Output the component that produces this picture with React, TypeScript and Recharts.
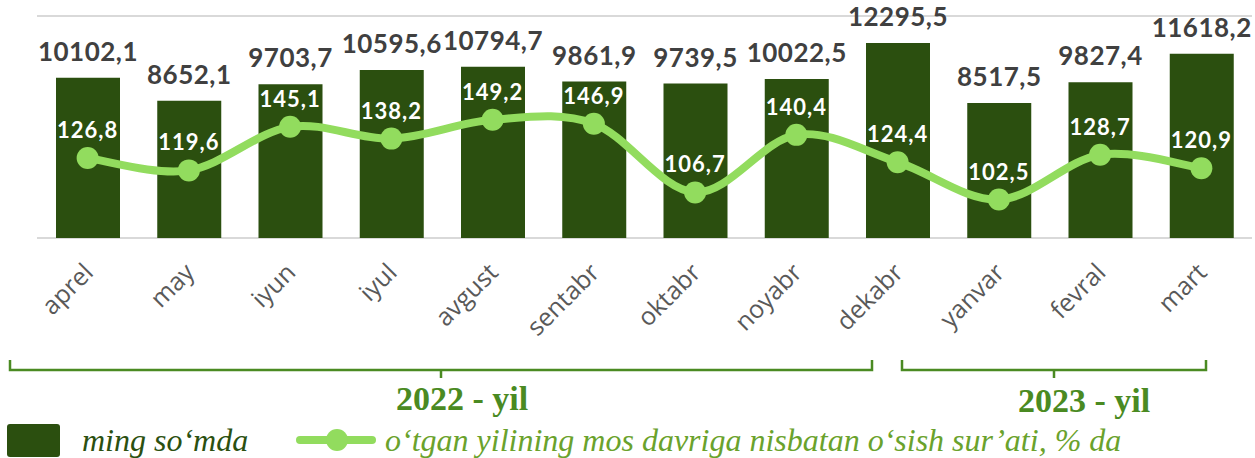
import { Bar, CartesianGrid, ComposedChart, LabelList, Line, XAxis, YAxis } from 'recharts'

const months = ['aprel', 'may', 'iyun', 'iyul', 'avgust', 'sentabr', 'oktabr', 'noyabr', 'dekabr', 'yanvar', 'fevral', 'mart']
const amountThousandSom = [10102.1, 8652.1, 9703.7, 10595.6, 10794.7, 9861.9, 9739.5, 10022.5, 12295.5, 8517.5, 9827.4, 11618.2]
const growthPct = [126.8, 119.6, 145.1, 138.2, 149.2, 146.9, 106.7, 140.4, 124.4, 102.5, 128.7, 120.9]
const amountTicks = [0, 2000, 4000, 6000, 8000, 10000, 12000, 14000]

const data = months.map((m, i) => ({ month: m, amount: amountThousandSom[i], growth: growthPct[i] }))

const BAR_COLOR = '#2b4f0f'
const LINE_COLOR = '#92dc5e'
const YEAR_COLOR = '#4a8a22'

const fmt = (v: any) => Number(v).toFixed(1).replace('.', ',')

// excel-like smoothed line (catmull-rom through the points)
const smoothCurve = (context: any) => {
  let pts: number[][] = []
  return {
    areaStart() {},
    areaEnd() {},
    lineStart() { pts = [] },
    point(x: number, y: number) { pts.push([+x, +y]) },
    lineEnd() {
      if (!pts.length) return
      context.moveTo(pts[0][0], pts[0][1])
      for (let i = 0; i < pts.length - 1; i++) {
        const p0 = pts[i - 1] || pts[i]
        const p1 = pts[i]
        const p2 = pts[i + 1]
        const p3 = pts[i + 2] || p2
        context.bezierCurveTo(
          p1[0] + (p2[0] - p0[0]) / 6, p1[1] + (p2[1] - p0[1]) / 6,
          p2[0] - (p3[0] - p1[0]) / 6, p2[1] - (p3[1] - p1[1]) / 6,
          p2[0], p2[1],
        )
      }
    },
  }
}

function MonthTick(props: any) {
  const { x, y, payload } = props
  // y is the tick position under the plot; text end sits a bit right of the bar centre
  return (
    <g transform={`translate(${x + 7},${y + 36})`}>
      <text x={0} y={0} transform="rotate(-45)" textAnchor="end" fill="#595959" fontSize={25} fontFamily="'Open Sans', sans-serif">
        {payload.value}
      </text>
    </g>
  )
}

function Annotations() {
  return (
    <svg width={1255} height={458} style={{ position: 'absolute', left: 0, top: 0, pointerEvents: 'none' }}>
      <g fill="none" stroke={YEAR_COLOR} strokeWidth={2.5}>
        <path d="M10 360 V370 H872 V360 M441 370 V378" />
        <path d="M902 360 V370 H1206 V360 M1054 370 V378" />
      </g>
      <g fill={YEAR_COLOR} fontFamily="'Liberation Serif', serif" fontWeight={700} fontSize={34} textAnchor="middle">
        <text x={462} y={410}>2022 - yil</text>
        <text x={1084} y={412}>2023 - yil</text>
      </g>
      <rect x={7} y={424} width={53} height={33} rx={3} fill={BAR_COLOR} />
      <text x={82} y={451} fill="#2b5010" fontSize={32} fontStyle="italic" fontFamily="'Liberation Serif', serif">ming so‘mda</text>
      <line x1={300} y1={440} x2={372} y2={440} stroke={LINE_COLOR} strokeWidth={8} strokeLinecap="round" />
      <circle cx={337} cy={440} r={11} fill={LINE_COLOR} />
      <text x={385} y={451} fill="#6aa22c" fontSize={32} fontStyle="italic" fontFamily="'Liberation Serif', serif">o‘tgan yilining mos davriga nisbatan o‘sish sur’ati, % da</text>
    </svg>
  )
}

export default function App() {
  return (
    <div style={{ position: 'absolute', left: 0, top: 0, width: 1255, height: 458, background: '#fff' }}>
      <ComposedChart width={1255} height={458} data={data} margin={{ top: 16, right: 3, left: 0, bottom: 0 }}>
        <CartesianGrid vertical={false} stroke="#d9d9d9" strokeWidth={2} />
        <XAxis dataKey="month" height={220} axisLine={false} tickLine={false} tickSize={0} tickMargin={0} interval={0} tick={(p: any) => <MonthTick {...p} />} />
        <YAxis yAxisId="amt" domain={[0, 14000]} ticks={amountTicks} width={37} tick={false} axisLine={false} tickLine={false} />
        <YAxis yAxisId="pct" orientation="right" domain={[80, 210]} hide />
        <Bar yAxisId="amt" dataKey="amount" fill={BAR_COLOR} barSize={64} isAnimationActive={false}>
          <LabelList dataKey="amount" position="top" offset={17} formatter={fmt} fill="#404040" fontSize={26} fontWeight={700} fontFamily="Lato, sans-serif" letterSpacing={0.5} />
        </Bar>
        <Line
          yAxisId="pct"
          dataKey="growth"
          type={smoothCurve as any}
          stroke={LINE_COLOR}
          strokeWidth={8}
          dot={{ r: 11, fill: LINE_COLOR, stroke: 'none' }}
          activeDot={false}
          isAnimationActive={false}
        >
          <LabelList dataKey="growth" position="top" offset={20} formatter={fmt} fill="#ffffff" fontSize={22} fontWeight={700} fontFamily="Lato, sans-serif" letterSpacing={1} />
        </Line>
      </ComposedChart>
      <Annotations />
    </div>
  )
}
